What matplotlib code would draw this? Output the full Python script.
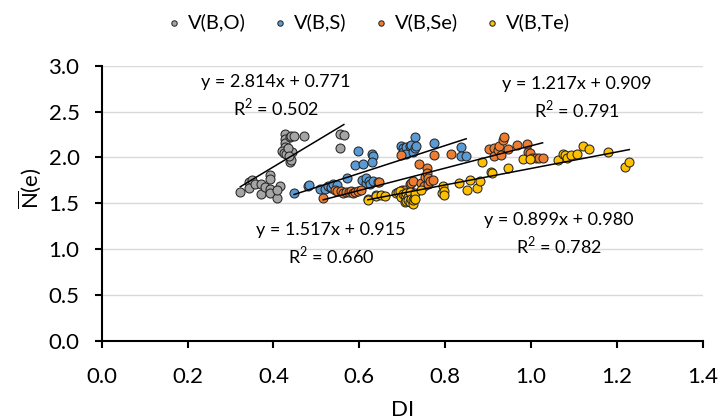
import numpy as np
import matplotlib
matplotlib.use('Agg')
import matplotlib.pyplot as plt

plt.rcParams['font.family'] = ['Lato', 'DejaVu Sans']
plt.rcParams['mathtext.fontset'] = 'custom'
plt.rcParams['mathtext.rm'] = 'Lato'

# data
series_names = ['V(B,O)', 'V(B,S)', 'V(B,Se)', 'V(B,Te)']
colors = ['#A5A5A5', '#5B9BD5', '#ED7D31', '#FFC000']

x_O = [0.323, 0.343, 0.349, 0.343, 0.358, 0.370, 0.370, 0.381, 0.393, 0.393, 0.391, 0.393,
       0.408, 0.415, 0.409, 0.428, 0.428, 0.428, 0.428, 0.438, 0.442, 0.447, 0.472, 0.419,
       0.424, 0.430, 0.443, 0.434, 0.439, 0.440, 0.436, 0.555, 0.564, 0.554]
y_O = [1.62, 1.73, 1.75, 1.67, 1.71, 1.71, 1.60, 1.68, 1.66, 1.61, 1.81, 1.76,
       1.56, 1.69, 1.64, 2.25, 2.20, 2.16, 2.11, 2.22, 2.23, 2.23, 2.23, 2.07,
       2.05, 2.04, 2.06, 2.10, 1.95, 1.97, 2.01, 2.25, 2.24, 2.10]

x_S = [0.448, 0.481, 0.483, 0.509, 0.519, 0.527, 0.533, 0.535, 0.539, 0.547, 0.572, 0.591,
       0.598, 0.607, 0.609, 0.615, 0.616, 0.622, 0.624, 0.630, 0.632, 0.630, 0.632, 0.643,
       0.696, 0.701, 0.701, 0.709, 0.709, 0.717, 0.721, 0.725, 0.729, 0.729, 0.733, 0.774,
       0.836, 0.836, 0.849]
y_S = [1.61, 1.69, 1.70, 1.66, 1.65, 1.69, 1.67, 1.68, 1.71, 1.70, 1.77, 1.92,
       2.07, 1.75, 1.93, 1.72, 1.77, 1.74, 1.71, 2.04, 2.01, 1.95, 1.74, 1.73,
       2.12, 2.10, 2.06, 2.11, 2.04, 2.12, 2.13, 2.06, 2.10, 2.22, 2.12, 2.16,
       2.11, 2.01, 2.01]

x_Se = [0.516, 0.544, 0.547, 0.558, 0.562, 0.570, 0.577, 0.581, 0.585, 0.589, 0.597, 0.605,
        0.647, 0.698, 0.699, 0.706, 0.717, 0.718, 0.721, 0.725, 0.740, 0.743, 0.751, 0.753,
        0.758, 0.758, 0.759, 0.761, 0.764, 0.772, 0.773, 0.814, 0.903, 0.913, 0.913, 0.922,
        0.926, 0.930, 0.934, 0.936, 0.946, 0.967, 0.991, 0.992, 0.998, 1.002, 1.012, 1.019,
        1.027]
y_Se = [1.56, 1.64, 1.63, 1.63, 1.61, 1.62, 1.62, 1.63, 1.61, 1.62, 1.63, 1.64,
        1.73, 2.03, 1.64, 1.64, 1.63, 1.71, 1.72, 1.74, 1.93, 1.72, 1.69, 1.79,
        1.88, 1.83, 1.71, 1.77, 1.74, 1.75, 2.03, 2.04, 2.09, 2.10, 2.01, 2.08,
        2.12, 2.03, 2.19, 2.22, 2.09, 2.14, 2.15, 2.06, 2.05, 1.99, 1.99, 1.99,
        1.99]

x_Te = [0.620, 0.620, 0.640, 0.640, 0.651, 0.659, 0.686, 0.690, 0.694, 0.698, 0.701, 0.706,
        0.706, 0.709, 0.709, 0.713, 0.713, 0.717, 0.717, 0.721, 0.725, 0.725, 0.727, 0.729,
        0.729, 0.744, 0.792, 0.794, 0.797, 0.797, 0.833, 0.851, 0.859, 0.874, 0.882, 0.885,
        0.907, 0.909, 0.947, 0.981, 0.998, 1.062, 1.074, 1.079, 1.084, 1.092, 1.107, 1.122,
        1.136, 1.180, 1.219, 1.229]
y_Te = [1.55, 1.54, 1.59, 1.58, 1.59, 1.58, 1.61, 1.62, 1.63, 1.57, 1.60, 1.59,
        1.51, 1.61, 1.52, 1.57, 1.54, 1.51, 1.62, 1.55, 1.49, 1.53, 1.56, 1.61,
        1.55, 1.64, 1.61, 1.69, 1.63, 1.59, 1.72, 1.64, 1.75, 1.67, 1.74, 1.95,
        1.84, 1.83, 1.88, 1.98, 1.98, 1.97, 2.04, 2.03, 1.99, 2.03, 2.04, 2.12,
        2.09, 2.06, 1.90, 1.95]

# trendline coefficients as printed on the chart
slopes = [2.814, 1.517, 1.217, 0.899]
intercepts = [0.771, 0.915, 0.909, 0.980]
r2 = [0.502, 0.660, 0.791, 0.782]
label_pos = [(0.405, 2.67), (0.534, 1.05), (1.107, 2.65), (1.065, 1.16)]

xs = [x_O, x_S, x_Se, x_Te]
ys = [y_O, y_S, y_Se, y_Te]

fig = plt.figure(figsize=(7.2, 4.19), dpi=100)
ax = fig.add_axes([0.1413, 0.1869, 0.8347, 0.6563])

for i in range(4):
    ax.scatter(xs[i], ys[i], s=42, color=colors[i], edgecolors='#262626',
               linewidths=0.75, zorder=3 + i, label=series_names[i])
for i in range(4):
    lx = np.array([min(xs[i]), max(xs[i])])
    ax.plot(lx, slopes[i] * lx + intercepts[i], color='black', lw=1.1, zorder=10)
    tx, ty = label_pos[i]
    ax.text(tx, ty, 'y = %.3fx + %.3f\nR$^2$ = %.3f' % (slopes[i], intercepts[i], r2[i]),
            ha='center', va='center', fontsize=13, linespacing=1.33, zorder=11)

ax.set_xlim(0, 1.4)
ax.set_ylim(0, 3.0)
ax.set_xticks(np.arange(0, 1.41, 0.2))
ax.set_yticks(np.arange(0, 3.01, 0.5))
ax.xaxis.set_major_formatter(matplotlib.ticker.FormatStrFormatter('%.1f'))
ax.yaxis.set_major_formatter(matplotlib.ticker.FormatStrFormatter('%.1f'))
ax.grid(axis='y', color='#D9D9D9', lw=1)
ax.set_axisbelow(True)
for s in ['top', 'right']:
    ax.spines[s].set_visible(False)
for s in ['left', 'bottom']:
    ax.spines[s].set_linewidth(1.5)
ax.tick_params(direction='out', length=5, width=1.5, labelsize=16)
ax.tick_params(axis='x', pad=14)
ax.tick_params(axis='y', pad=11)

ax.set_xlabel('DI', fontsize=16)
ax.xaxis.set_label_coords(0.5, -0.215)
ax.set_ylabel(r'$\overline{\mathrm{N}}$(e)', fontsize=16)
ax.yaxis.set_label_coords(-0.097, 0.555)

fig.legend(loc='center', bbox_to_anchor=(0.511, 0.947), ncol=4, frameon=False,
           fontsize=14.5, markerscale=0.6, handlelength=0.8, handletextpad=0.3,
           columnspacing=1.3)

fig.savefig('out.png', dpi=100)
